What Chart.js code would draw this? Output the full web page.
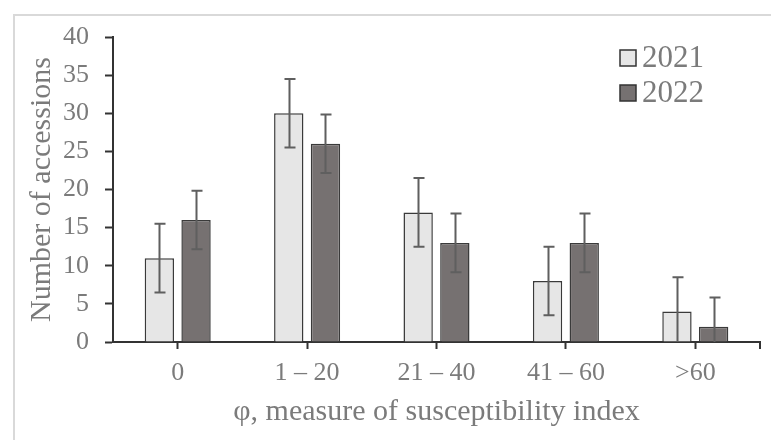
<!DOCTYPE html>
<html>
<head>
<meta charset="utf-8">
<script src="https://cdn.jsdelivr.net/npm/chart.js@4"></script>
<style>
  html, body { margin: 0; padding: 0; background: #fff; }
  #wrap { position: relative; width: 771px; height: 440px; overflow: hidden; }
  #frame { position: absolute; left: 13px; top: 14px; width: 820px; height: 500px; border: 2px solid #d9d9d9; }
  #chart { position: absolute; left: 0; top: 0; }
</style>
</head>
<body>
<div id="wrap">
  <div id="frame"></div>
  <canvas id="chart" width="771" height="440"></canvas>
</div>
<script>
const categories = ['0', '1 \u2013 20', '21 \u2013 40', '41 \u2013 60', '>60'];
const series2021 = [11, 30, 17, 8, 4];
const series2022 = [16, 26, 13, 13, 2];
const err2021 = [4.5, 4.5, 4.5, 4.5, 4.5];
const err2022 = [3.85, 3.85, 3.85, 3.85, 3.85];
const yTicks = [0, 5, 10, 15, 20, 25, 30, 35, 40];

const textColor = '#7b7b7b';
const axisColor = '#333333';
const serif = '"Liberation Serif", "Times New Roman", serif';

// error bars + legend + right end tick, drawn with the chart's own scales
const extras = {
    id: 'extras',
    afterDatasetsDraw(chart) {
        const ctx = chart.ctx;
        const y = chart.scales.y;
        const errs = [err2021, err2022];
        ctx.save();
        ctx.strokeStyle = '#5f5f5f';
        ctx.lineWidth = 2;
        chart.data.datasets.forEach((ds, i) => {
            chart.getDatasetMeta(i).data.forEach((bar, j) => {
                const v = ds.data[j];
                const e = errs[i][j];
                const top = y.getPixelForValue(v + e);
                const bot = y.getPixelForValue(Math.max(0, v - e));
                const x = Math.round(bar.x) + 0.5;
                ctx.beginPath();
                ctx.moveTo(x, top);
                ctx.lineTo(x, bot);
                ctx.moveTo(x - 5, top);
                ctx.lineTo(x + 6, top);
                if (v - e > 0) {
                    ctx.moveTo(x - 5, bot);
                    ctx.lineTo(x + 6, bot);
                }
                ctx.stroke();
            });
        });
        ctx.restore();
    },
    afterDraw(chart) {
        const ctx = chart.ctx;
        const area = chart.chartArea;
        ctx.save();
        // closing tick at the right end of the category axis
        ctx.strokeStyle = axisColor;
        ctx.lineWidth = 2;
        ctx.beginPath();
        ctx.moveTo(area.right, area.bottom);
        ctx.lineTo(area.right, area.bottom + 7);
        ctx.stroke();

        // legend, top right inside the plot
        const lx = area.right - 140;
        let ly = area.top + 13;
        ctx.font = '31px ' + serif;
        ctx.textBaseline = 'middle';
        chart.data.datasets.forEach((ds) => {
            ctx.fillStyle = ds.backgroundColor;
            ctx.fillRect(lx, ly, 16, 16);
            ctx.strokeStyle = axisColor;
            ctx.lineWidth = 1.5;
            ctx.strokeRect(lx, ly, 16, 16);
            ctx.fillStyle = textColor;
            ctx.fillText(ds.label, lx + 22, ly + 9);
            ly += 35;
        });
        ctx.restore();
    }
};

const canvas = document.getElementById('chart');
new Chart(canvas.getContext('2d'), {
    type: 'bar',
    data: {
        labels: categories,
        datasets: [{
            label: '2021',
            data: series2021,
            backgroundColor: '#e6e6e6',
            borderColor: '#3a3a3a',
            borderWidth: 1.5
        }, {
            label: '2022',
            data: series2022,
            backgroundColor: '#767171',
            borderColor: '#3a3a3a',
            borderWidth: 1.5
        }]
    },
    options: {
        responsive: false,
        animation: false,
        layout: { padding: { top: 37, right: 11, bottom: 0, left: 24 } },
        datasets: {
            bar: { categoryPercentage: 0.567, barPercentage: 0.8 }
        },
        scales: {
            x: {
                afterFit: (scale) => { scale.height = 98; },
                grid: {
                    offset: false,
                    drawOnChartArea: false,
                    drawTicks: true,
                    tickLength: 7,
                    tickWidth: 2,
                    tickColor: axisColor
                },
                border: { color: axisColor, width: 2 },
                ticks: { color: textColor, font: { family: serif, size: 26 }, padding: 9 },
                title: {
                    display: true,
                    text: '\u03c6, measure of susceptibility index',
                    color: textColor,
                    font: { family: serif, size: 30 },
                    padding: { top: 0, bottom: 10 }
                }
            },
            y: {
                min: 0,
                max: 40,
                afterBuildTicks: (scale) => { scale.ticks = yTicks.map(v => ({ value: v })); },
                afterFit: (scale) => { scale.width = 89; },
                grid: {
                    drawOnChartArea: false,
                    drawTicks: true,
                    tickLength: 8,
                    tickWidth: 2,
                    tickColor: axisColor
                },
                border: { color: axisColor, width: 2 },
                ticks: { color: textColor, font: { family: serif, size: 26 }, padding: 16 },
                title: {
                    display: true,
                    text: 'Number of accessions',
                    color: textColor,
                    font: { family: serif, size: 30 },
                    padding: { top: 0, bottom: 2 }
                }
            }
        },
        plugins: {
            legend: { display: false },
            tooltip: { enabled: false }
        }
    },
    plugins: [extras]
});
</script>
</body>
</html>
